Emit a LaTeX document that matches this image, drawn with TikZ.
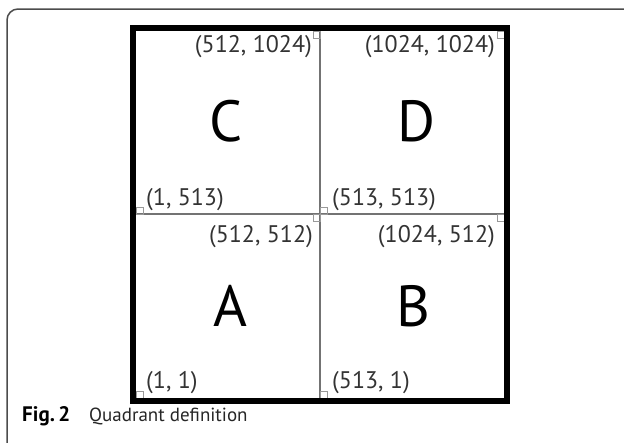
\documentclass[tikz,border=0pt]{standalone}
\usepackage{fontspec}
\setmainfont{PT Sans}
\begin{document}
\begin{tikzpicture}[x=1pt,y=-1pt,
  coord/.style={inner sep=0pt,font=\fontsize{24}{24}\selectfont,text=black!80},
  big/.style={inner sep=0pt,font=\fontsize{58}{58}\selectfont},
  thin/.style={draw=black!55,line width=1.2pt},
  corner/.style={draw=black!40,line width=0.7pt},
  frame/.style={draw=black!70,line width=1.5pt,rounded corners=11pt}]
\useasboundingbox (0,0) rectangle (624,442);
\begin{scope}
\clip (0,0) rectangle (624,442);
\draw[frame] (7,9) rectangle (660,455);
\end{scope}
% grid lines
\coordinate (tm) at (320,28); \coordinate (bm) at (320,401);
\coordinate (lm) at (133,214); \coordinate (rm) at (507,214);
\draw[thin] (tm) -- (bm);
\draw[thin] (lm) -- (rm);
% corner squares
\draw[corner] (136,207) rectangle (143,214);
\draw[corner] (313,214) rectangle (320,221);
\draw[corner] (320,207) rectangle (327,214);
\draw[corner] (497,214) rectangle (504,221);
\draw[corner] (313,31) rectangle (320,38);
\draw[corner] (497,31) rectangle (504,38);
\draw[corner] (136,391) rectangle (143,398);
\draw[corner] (320,391) rectangle (327,398);
% outer thick border
\draw[line width=6pt] (133,28) rectangle (507,401);
% labels
\node[coord,anchor=east] (c1) at (312,47) {(512, 1024)};
\node[coord,anchor=east] (c2) at (495,47) {(1024, 1024)};
\node[coord,anchor=west] (c3) at (146,200) {(1, 513)};
\node[coord,anchor=west] (c4) at (332,200) {(513, 513)};
\node[coord,anchor=east] (c5) at (313,237) {(512, 512)};
\node[coord,anchor=east] (c6) at (495,237) {(1024, 512)};
\node[coord,anchor=west] (c7) at (146,383) {(1, 1)};
\node[coord,anchor=west] (c8) at (332,383) {(513, 1)};
\node[big] (qC) at (226,121) {C};
\node[big] (qD) at (416,121) {D};
\node[big] (qA) at (230,306) {A};
\node[big] (qB) at (413,306) {B};
% caption
\node[anchor=base west,inner sep=0pt,font=\fontsize{21}{21}\selectfont\bfseries] (fig) at (22,421) {Fig.\,2};
\node[anchor=base west,inner sep=0pt,font=\fontsize{19}{19}\selectfont,text=black!85] (cap) at (89,421) {Quadrant definition};
\end{tikzpicture}
\end{document}
